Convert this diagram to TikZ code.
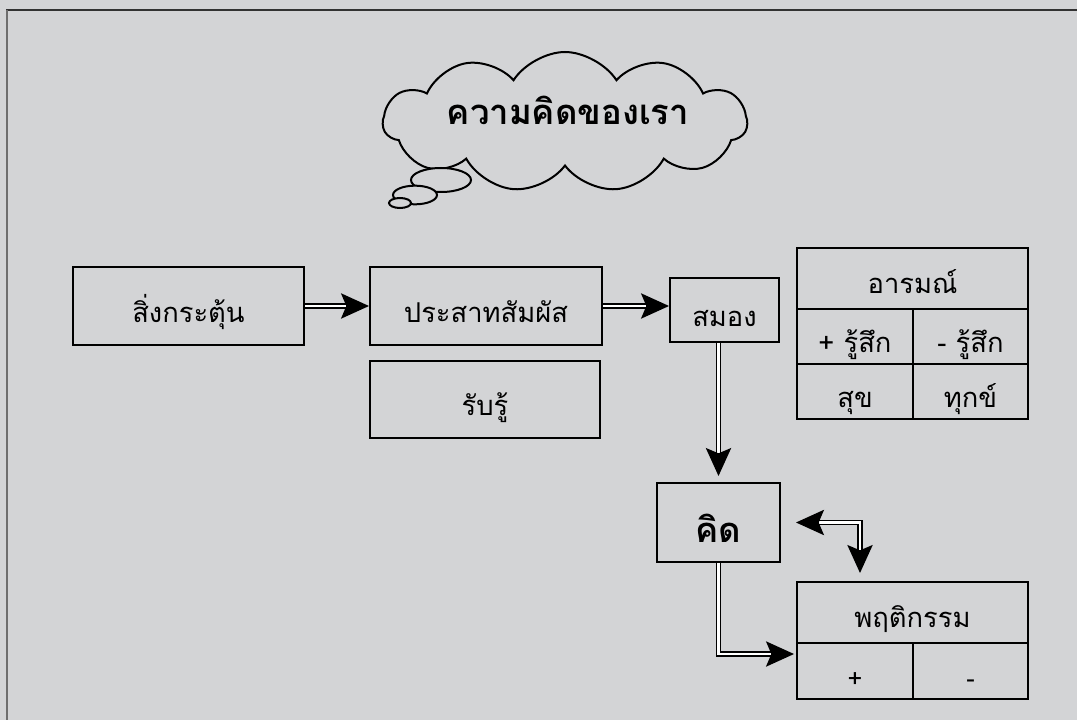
\documentclass[tikz,border=0pt]{standalone}
\usepackage{fontspec}
\setmainfont[Script=Thai]{Loma}
\usetikzlibrary{shapes.symbols,shapes.geometric,arrows.meta,calc}
\definecolor{bg}{RGB}{211,212,214}
\definecolor{frametop}{RGB}{50,50,50}
\definecolor{frameleft}{RGB}{110,110,110}
\begin{document}
\begin{tikzpicture}[x=0.75pt,y=-0.75pt,
  box/.style={draw=black,line width=1.5pt,rectangle,inner sep=0pt,
    font=\fontsize{20.5pt}{25pt}\selectfont,text height=24.5pt,text depth=0pt},
  dbl/.style={draw=black,line width=1.1pt,double=white,double distance=1.6pt,-{Stealth[length=21pt,width=19pt,inset=4pt]}},
  dblboth/.style={dbl,{Stealth[length=21pt,width=19pt,inset=4pt]}-{Stealth[length=21pt,width=19pt,inset=4pt]}},
  bubble/.style={draw=black,line width=1.5pt,fill=bg,ellipse,inner sep=0pt}
]
\useasboundingbox (0,0) rectangle (1077,720);
\fill[bg] (0,0) rectangle (1077,720);
\draw[frametop,line width=1.5pt] (6,10) -- (1077,10);
\draw[frameleft,line width=2.2pt] (7,10) -- (7,720);

% cloud
\node[cloud,cloud puffs=11,cloud puff arc=115,cloud ignores aspect,draw=black,line width=1.5pt,fill=bg,
  minimum width=273pt,minimum height=105pt,inner sep=0pt] (cloud) at (565,122) {};
\node[font=\bfseries\fontsize{26pt}{30pt}\selectfont,inner sep=0pt,anchor=base] (ctext) at (568,125) {ความคิดของเรา};
\node[bubble,minimum width=45pt,minimum height=18pt] (b1) at (441,180) {};
\node[bubble,minimum width=33pt,minimum height=14pt] (b2) at (415,195) {};
\node[bubble,minimum width=16.5pt,minimum height=7.5pt] (b3) at (400,203) {};

% main boxes
\node[box,minimum width=173.25pt,minimum height=58.5pt] (stim) at (188.5,306) {สิ่งกระตุ้น};
\node[box,minimum width=174pt,minimum height=58.5pt] (sense) at (486,306) {ประสาทสัมผัส};
\node[box,minimum width=172.5pt,minimum height=57.75pt] (recv) at (485,399.5) {รับรู้};
\node[box,minimum width=81.75pt,minimum height=48pt] (brain) at (724.5,310) {สมอง};
\node[box,minimum width=92.25pt,minimum height=59.25pt,
  font=\bfseries\fontsize{26pt}{30pt}\selectfont,text height=30pt] (think) at (718.5,522.5) {คิด};

% emotion table
\node[box,minimum width=173.25pt,minimum height=45.75pt,text height=22pt] (emo) at (912.5,278.5) {อารมณ์};
\node[box,minimum width=87pt,minimum height=41.25pt] (emoa) at (855,336.5) {+ รู้สึก};
\node[box,minimum width=86.25pt,minimum height=41.25pt] (emob) at (970.5,336.5) {- รู้สึก};
\node[box,minimum width=87pt,minimum height=41.25pt] (emoc) at (855,391.5) {สุข};
\node[box,minimum width=86.25pt,minimum height=41.25pt] (emod) at (970.5,391.5) {ทุกข์};

% behaviour table
\node[box,minimum width=173.25pt,minimum height=45.75pt,text height=23pt] (beh) at (912.5,612.5) {พฤติกรรม};
\node[box,minimum width=87pt,minimum height=42pt,font=\fontsize{19pt}{23pt}\selectfont] (beha) at (855,671) {+};
\node[box,minimum width=86.25pt,minimum height=42pt,font=\fontsize{19pt}{23pt}\selectfont] (behb) at (970.5,671) {-};

% connectors
\draw[dbl] (stim.east) -- (sense.west);
\draw[dbl] (sense.east) -- (sense.east -| brain.west);
\draw[dbl,shorten >=4.5pt] (think.north |- brain.south) -- (think.north);
\coordinate (bi1) at ($(think.east)+(15,0)$);
\coordinate (bi2) at (860,573);
\draw[dblboth] (bi1) -| (bi2);
\coordinate (bo) at (794,654);
\draw[dbl] (think.south) |- (bo);
\end{tikzpicture}
\end{document}
